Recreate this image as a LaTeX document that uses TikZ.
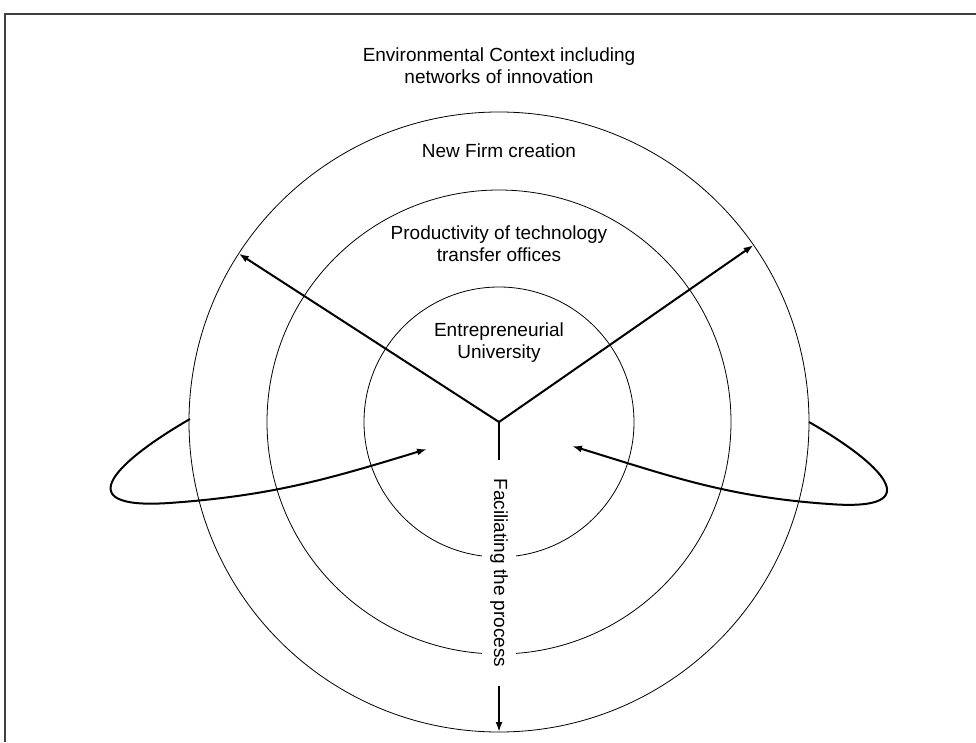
\documentclass[tikz,border=0pt]{standalone}
\usepackage{fontspec}
\setmainfont{Liberation Sans}
\usepackage{tikz}
\usetikzlibrary{positioning,arrows.meta}

\begin{document}
\begin{tikzpicture}[x=1pt,y=1pt,
				txt/.style={font=\fontsize{19}{22}\selectfont, align=center},
				ring/.style={line width=0.8pt},
				arr/.style={line width=2pt, -{Latex[length=10pt,width=7pt]}}]
				\useasboundingbox (-499,-320) rectangle (477,422);
				%%%frame
				\draw[line width=1.5pt, black!75] (-494,-320) -- (-494,408) -- (477,408);
				%%%rings
				\coordinate (C) at (0,0);
				\draw[ring] (C) circle[radius=135];
				\draw[ring] (C) circle[radius=232];
				\draw[ring] (C) circle[radius=310];
				%%%nodes
				%outside
				\node[txt] at (0,356) (Env){Environmental Context including\\networks of innovation};
				%ring 3
				\node[txt, anchor=base] at (0,264) (Firm){New Firm creation};
				%ring 2
				\node[txt] at (0,178) (TTO){Productivity of technology\\transfer offices};
				%ring 1
				\node[txt] at (0,79) (Uni){Entrepreneurial\\University};
				%down
				\node[txt, fill=white, rotate=-90, inner xsep=18pt, inner ysep=8pt] at (0,-151) (Proc){Faciliating the process};
				%%%end points
				\coordinate (NL) at (147.1:310);
				\coordinate (NR) at (34.8:310);
				\coordinate (S) at (0,-310);
				\coordinate (L0) at (-309,3);
				\coordinate (LT) at (-72,-27);
				\coordinate (R0) at (310,0);
				\coordinate (RT) at (73,-24);
				%%%links
				%the Y
				\draw[arr] (C) -- (NL);
				\draw[arr] (C) -- (NR);
				\draw[line width=2pt] (C) -- (Proc.west);
				\draw[arr] (Proc.east) -- (S);
				%feedback loops
				\draw[arr] (L0) .. controls (-380,-38) and (-435,-88) .. (-330,-81) to[out=4,in=-163] (LT);
				\draw[arr] (R0) .. controls (380,-40) and (434,-90) .. (330,-82) to[out=176,in=-17] (RT);
			\end{tikzpicture}
\end{document}
